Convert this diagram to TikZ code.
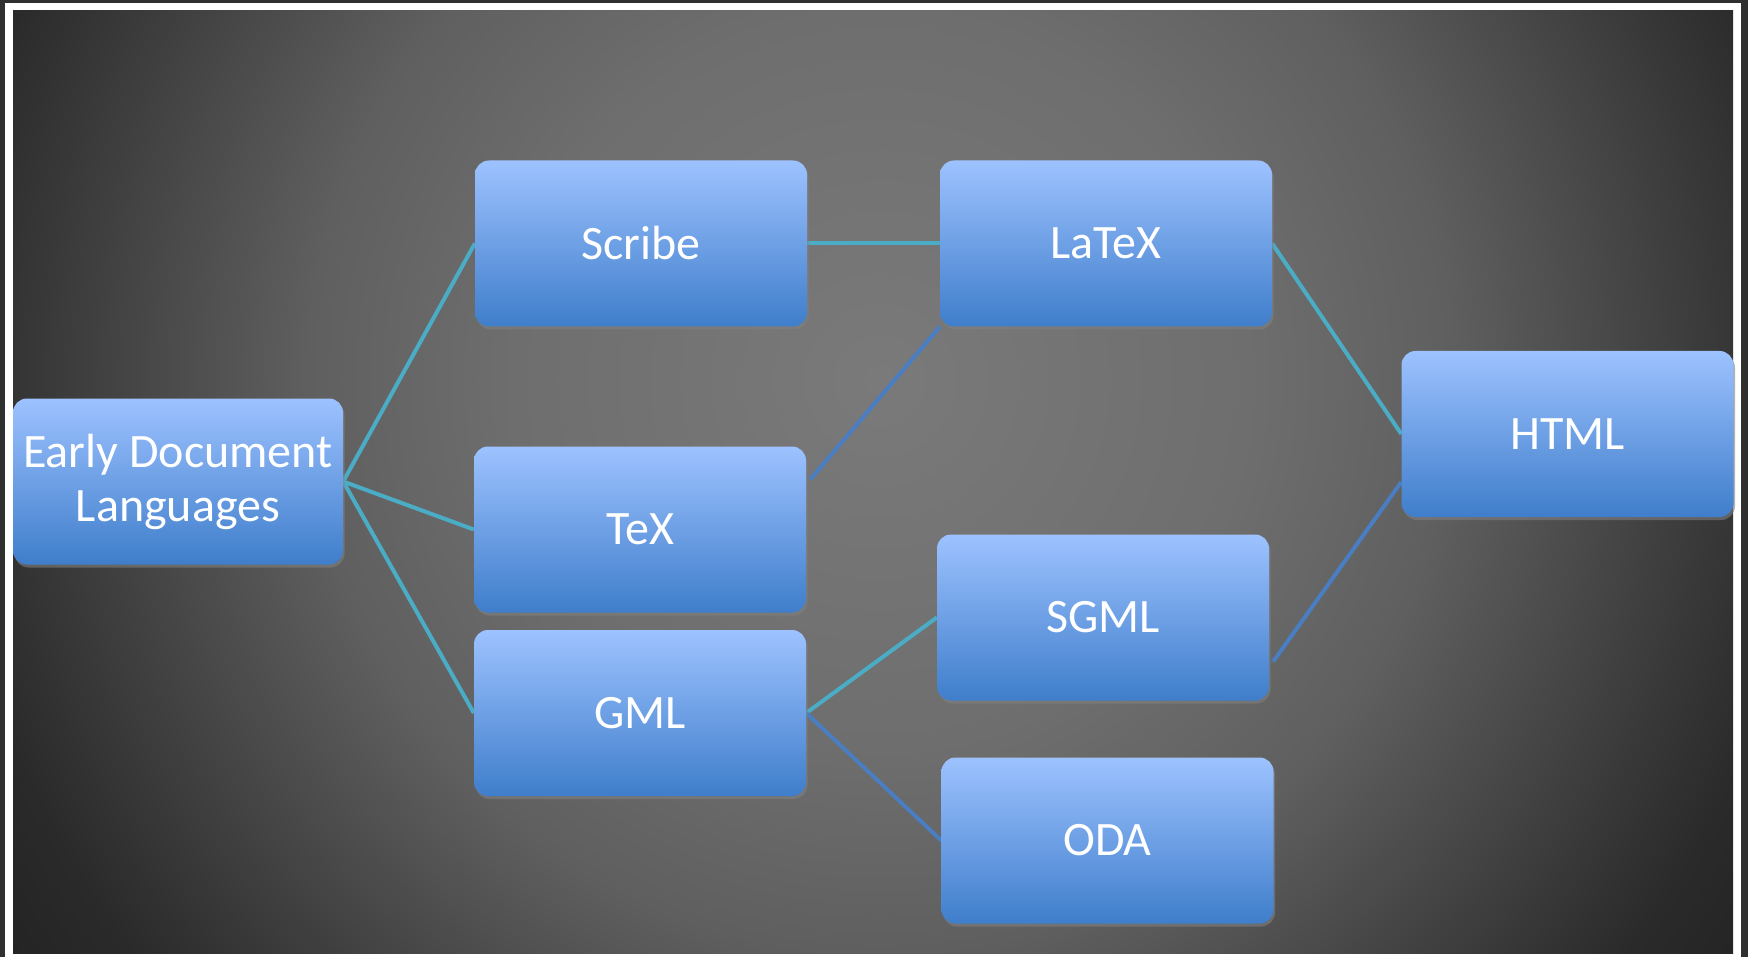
\documentclass[tikz,border=0pt]{standalone}
\usepackage{fontspec}
\setmainfont{Carlito}
\usetikzlibrary{shadows}

% palette
\definecolor{frameDark}{HTML}{2F2F2F}
\definecolor{bgA}{HTML}{7A7A7A}
\definecolor{bgB}{HTML}{6E6E6E}
\definecolor{bgC}{HTML}{5F5F5F}
\definecolor{bgD}{HTML}{343434}
\definecolor{bgE}{HTML}{2A2A2A}
\definecolor{bgF}{HTML}{242424}
\definecolor{boxTop}{HTML}{9DC2FF}
\definecolor{boxBot}{HTML}{3F7ECB}
\definecolor{linkTeal}{HTML}{4BACC6}
\definecolor{linkBlue}{HTML}{4A7EC2}

% circular vignette for the slide background (25bp = edge of the shaded square)
\pgfdeclareradialshading{vignette}{\pgfpoint{0bp}{0bp}}{%
  color(0bp)=(bgA); color(8.85bp)=(bgB); color(13.75bp)=(bgC);
  color(20.9bp)=(bgD); color(22.65bp)=(bgE); color(25bp)=(bgF); color(50bp)=(bgF)}

\pgfdeclarelayer{bglayer}
\pgfdeclarelayer{linklayer}
\pgfsetlayers{bglayer,linklayer,main}

\begin{document}
\begin{tikzpicture}[x=1pt,y=-1pt,
  langbox/.style={rounded corners=14pt, top color=boxTop, bottom color=boxBot,
    minimum width=332pt, minimum height=166pt, inner sep=0pt,
    text=white, font=\fontsize{48}{54}\selectfont, align=center,
    drop shadow={opacity=0.6, shadow xshift=1.5pt, shadow yshift=-3pt}},
  tealLink/.style={draw=linkTeal, line width=4pt},
  blueLink/.style={draw=linkBlue, line width=4pt}]

\useasboundingbox (0,0) rectangle (1748,957);

% frame and background
\begin{pgfonlayer}{bglayer}
  \fill[frameDark] (0,0) rectangle (1748,957);
  \fill[white] (5,3) rectangle (1741,957);
  \begin{scope}
    \clip (13,11) rectangle (1733,953);
    \shade[shading=vignette] (-160,-660) rectangle (1920,1420);
  \end{scope}
\end{pgfonlayer}

% boxes
\node[langbox, minimum width=330pt] (early)  at (178,481.5)  {Early Document\\Languages};
\node[langbox] (scribe) at (641,243.5)  {Scribe};
\node[langbox] (tex)    at (640,529.5)  {TeX};
\node[langbox] (gml)    at (640,713)    {GML};
\node[langbox] (latex)  at (1106,243.5) {LaTeX};
\node[langbox] (sgml)   at (1103,617.5) {SGML};
\node[langbox] (oda)    at (1107.5,840.5) {ODA};
\node[langbox] (html)   at (1567.5,434) {HTML};

% connectors
\begin{pgfonlayer}{linklayer}
  \draw[tealLink] (early.east) -- (scribe.west);
  \draw[tealLink] (early.east) -- (tex.west);
  \draw[tealLink] (early.east) -- (gml.west);
  \draw[tealLink] (scribe.east) -- (latex.west);
  \draw[blueLink] ([xshift=4pt,yshift=50pt]tex.east) -- (latex.south west);
  \draw[tealLink] (latex.east) -- (html.west);
  \draw[blueLink] ([xshift=4pt,yshift=-44pt]sgml.east) -- ([yshift=-48pt]html.west);
  \draw[tealLink] (gml.east) -- (sgml.west);
  \draw[blueLink] (gml.east) -- (oda.west);
\end{pgfonlayer}
\end{tikzpicture}
\end{document}
